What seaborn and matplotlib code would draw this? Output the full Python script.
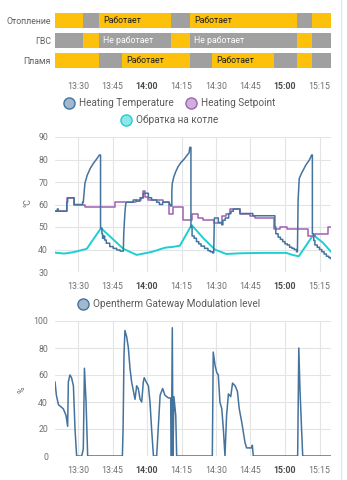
import numpy as np
import pandas as pd
import matplotlib
matplotlib.use("Agg")
import matplotlib.pyplot as plt
import seaborn as sns
from matplotlib.lines import Line2D

# ---------------- data (minutes after 13:20) ----------------
tick_minutes = [10, 25, 40, 55, 70, 85, 100, 115]
tick_labels = ["13:30", "13:45", "14:00", "14:15", "14:30", "14:45", "15:00", "15:15"]
bold_ticks = ["14:00", "15:00"]

timeline_rows = ["Отопление", "ГВС", "Пламя"]
heating_bounds = [0, 12.0, 19.3, 50.4, 58.7, 105.1, 111.6, 120]
heating_states = [1, 0, 1, 0, 1, 0, 1]
dhw_bounds = [0, 12.0, 19.3, 50.4, 58.7, 105.1, 111.6, 120]
dhw_states = [0, 1, 0, 1, 0, 1, 0]
flame_bounds = [0, 19.3, 29.1, 58.7, 68.3, 95.2, 105.3, 111.6, 120]
flame_states = [1, 0, 1, 0, 1, 0, 1, 0]
state_on_text = "Работает"
state_off_text = "Не работает"

# Heating temperature: (minute, °C) path points
ht_points = [
    (0, 57), (1.0, 57), (1.0, 58), (1.4, 58), (1.4, 57), (5.1, 57), (5.1, 61), (5.5, 61),
    (5.5, 63), (8.3, 63), (8.3, 60), (12.0, 60), (12.0, 61), (12.3, 61),
    (12.7, 66), (13.0, 69.4), (14.0, 73), (15.3, 76), (16.7, 78.3), (18.1, 80.2),
    (19.3, 82), (19.8, 82), (19.8, 49.5), (20.4, 49.5), (20.4, 47), (20.7, 47), (20.7, 45),
    (21.2, 45), (21.2, 46), (21.6, 46), (21.6, 44.2), (22.3, 44.2), (22.3, 42.8),
    (23.8, 42.8), (23.8, 41.3), (25.3, 41.3), (25.3, 40.5), (26.8, 40.5), (26.8, 39.8),
    (28.3, 39.8), (28.3, 39.3), (29.7, 39.3),
    (29.9, 47.3), (30.2, 53), (30.5, 57.6), (30.8, 60.6), (31.2, 61), (34.0, 61),
    (34.0, 62), (35.5, 62), (35.5, 61.5), (37.0, 61.5), (37.0, 63), (38.4, 63), (38.4, 65),
    (40.6, 65), (40.6, 63), (42.0, 63), (42.0, 62), (44.2, 62), (44.2, 61), (45.4, 61),
    (45.4, 60), (46.8, 60), (46.8, 61), (49.7, 61), (49.7, 60), (50.3, 60), (50.3, 59.3),
    (50.8, 59.3), (50.8, 66), (51.0, 69.4),
    (51.7, 72.4), (52.5, 74.6), (53.5, 76.8), (54.7, 78.6), (56.1, 80.1), (57.5, 82),
    (58.3, 83), (58.6, 85.4), (59.1, 85.4), (59.1, 50), (59.6, 50), (59.6, 46), (60.5, 46),
    (60.5, 45), (61.5, 45), (61.5, 43.5), (62.5, 43.5), (62.5, 42.5), (63.5, 42.5),
    (63.5, 41.5), (65.0, 41.5), (65.0, 40.5), (66.5, 40.5), (66.5, 39.5), (67.5, 39.5),
    (67.5, 39), (68.5, 39), (68.5, 38.5), (69.0, 38.5),
    (69.3, 54), (71.0, 54), (71.0, 52), (72.5, 52), (72.5, 51), (73.0, 51), (73.0, 53),
    (74.0, 53), (74.0, 54), (75.5, 54), (75.5, 56), (76.5, 56), (76.5, 57), (77.5, 57),
    (77.5, 58), (80.4, 58), (80.4, 56), (86.0, 56), (86.0, 55), (95.6, 55), (95.6, 50),
    (96.0, 50), (96.0, 47), (97.0, 47), (97.0, 45.5), (98.0, 45.5), (98.0, 44.5),
    (99.0, 44.5), (99.0, 43.5), (100.0, 43.5), (100.0, 42.5), (101.0, 42.5), (101.0, 42),
    (102.0, 42), (102.0, 41), (103.0, 41), (103.0, 40.5), (104.0, 40.5), (104.0, 40),
    (105.0, 40), (105.0, 39), (105.4, 39),
    (105.7, 62), (106.2, 71.6), (107.2, 73.9), (107.9, 75.3), (109.1, 77.6), (110.6, 79.8),
    (111.6, 82), (111.9, 82), (111.9, 47), (112.5, 47), (112.5, 44), (113.0, 44),
    (113.0, 42), (114.0, 42), (114.0, 41), (115.0, 41), (115.0, 40), (116.0, 40),
    (116.0, 39), (117.0, 39), (117.0, 38), (118.0, 38), (118.0, 37), (119.0, 37),
    (119.0, 36.5), (119.6, 36.5), (119.6, 36), (120.0, 36),
]

sp_t = [0, 5.0, 8.3, 13.0, 26.0, 35.0, 37.5, 38.4, 39.3, 40.6, 47.1, 49.5, 51.5, 55.8,
        59.5, 62.0, 64.5, 69.0, 72.5, 74.5, 76.0, 80.4, 84.8, 87.0, 95.0, 98.0, 101.0,
        110.0, 113.0, 118.8, 120.0]
sp_v = [57, 63, 60, 59, 61, 62, 63, 66, 63.5, 62, 61, 56, 59, 53,
        56, 54, 53, 52, 55, 56, 58, 56, 55, 54, 49, 50, 49,
        46, 47, 50, 50]

ret_t = [0, 4, 8, 13.8, 20.0, 29.7, 35.5, 42, 47.8, 51.5, 54.3, 59.4,
         64.5, 69.5, 74.5, 80, 90, 100.5, 103.5, 106, 112.3, 116.5, 120]
ret_v = [38.6, 38.2, 38.8, 40.3, 49.5, 40.3, 37.6, 38.9, 40.8, 41.2, 41.7, 50.9,
         45, 40, 38, 38.3, 38.5, 38.5, 37.5, 37, 46.5, 43, 39]

mod_t = [0, 0.6, 1.5, 3.6, 4.8, 5.5, 5.8, 6.5, 7.2, 8.0, 8.7, 9.4, 11.6, 12.3, 12.8,
         13.5, 14.2, 29.3, 29.6, 30.0, 30.4, 31.2, 31.9, 32.6, 33.3, 34.1, 34.8, 35.5,
         36.2, 37.0, 37.7, 38.4, 38.8, 39.6, 40.6, 41.3, 42.0, 42.8, 44.2, 45.7, 46.8,
         47.8, 49.3, 50.3, 50.6, 51.0, 51.3, 51.7, 52.5, 52.9, 68.4, 68.8, 69.6, 70.3,
         71.0, 71.7, 72.5, 73.2, 73.9, 74.6, 75.4, 76.4, 77.2, 78.3, 79.3, 80.1, 81.2,
         82.6, 83.3, 85.5, 85.8, 86.2, 105.5, 106.0, 106.5, 107.2, 107.7, 120.0]
mod_v = [55, 45, 38, 35, 30, 22, 55, 60, 58, 52, 20, 0, 0, 5, 65,
         40, 0, 0, 20, 75, 93, 88, 80, 65, 55, 48, 42, 52,
         50, 42, 40, 55, 58, 55, 52, 40, 20, 0, 0, 45, 50,
         45, 43, 43, 0, 95, 0, 44, 30, 0, 0, 77, 67, 62,
         60, 40, 35, 20, 0, 30, 46, 44, 54, 52, 48, 35, 25,
         10, 6, 6, 8, 0, 0, 80, 50, 20, 0, 0]

# ---------------- style ----------------
sns.set_theme(style="whitegrid")
plt.rcParams['font.family'] = ['Roboto', 'DejaVu Sans']

C_TEMP = "#44739e"
C_SET = "#a062b2"
C_RET = "#1ccfd3"
C_ON = "#fdc10b"
C_OFF = "#a0a0a0"
C_GRID = "#e4e4e4"
C_TICK = "#707070"
FS = 6.3
FS_LEG = 7.2

W, H = 347, 480
fig = plt.figure(figsize=(W / 100, H / 100), dpi=100)
fig.patch.set_facecolor("white")


def axes_px(l, t, r, b):
    return fig.add_axes([l / W, 1 - b / H, (r - l) / W, (b - t) / H])


def style_xticks(ax, pad):
    ax.set_xlim(0, 120)
    ax.set_xticks(tick_minutes)
    ax.set_xticklabels(tick_labels)
    for lab in ax.get_xticklabels():
        if lab.get_text() in bold_ticks:
            lab.set_fontweight("bold")
            lab.set_color("#4a4a4a")
        else:
            lab.set_color(C_TICK)
        lab.set_fontsize(FS)
    ax.tick_params(axis="x", length=0, pad=pad)


# ---------------- timeline ----------------
ax0 = axes_px(55, 10.5, 331, 70.5)
ax0.set_facecolor("white")
rows = [(heating_bounds, heating_states), (dhw_bounds, dhw_states), (flame_bounds, flame_states)]
for i, (bounds, states) in enumerate(rows):
    starts = np.array(bounds[:-1])
    widths = np.diff(bounds)
    cols = [C_ON if s else C_OFF for s in states]
    ax0.barh([i] * len(starts), widths, left=starts, height=0.75, color=cols,
             edgecolor="none", linewidth=0)
    for st, wd, s in zip(starts, widths, states):
        if wd > 20:
            ax0.text(st + 1.7, i, state_on_text if s else state_off_text,
                     va="center", ha="left", fontsize=FS,
                     color="#202020" if s else "white")
ax0.set_ylim(2.5, -0.5)
ax0.set_yticks([0, 1, 2])
ax0.set_yticklabels(timeline_rows, fontsize=FS, color="#606060")
ax0.tick_params(axis="y", length=0, pad=3)
style_xticks(ax0, 8)
ax0.grid(False)
for s in ax0.spines.values():
    s.set_visible(False)

# ---------------- temperatures ----------------
ax1 = axes_px(55, 137, 331, 272)
df_ht = pd.DataFrame(ht_points, columns=["t", "v"])
df_sp = pd.DataFrame({"t": sp_t, "v": sp_v})
df_ret = pd.DataFrame({"t": ret_t, "v": ret_v})
sns.lineplot(data=df_ret, x="t", y="v", ax=ax1, color=C_RET, lw=1.4, estimator=None, legend=False)
sns.lineplot(data=df_sp, x="t", y="v", ax=ax1, color=C_SET, lw=1.1, drawstyle="steps-post",
             estimator=None, legend=False)
sns.lineplot(data=df_ht, x="t", y="v", ax=ax1, color=C_TEMP, lw=1.1, sort=False,
             estimator=None, legend=False)
ax1.set_ylim(30, 90)
ax1.set_yticks(range(30, 91, 10))
ax1.set_xlabel("")
ax1.set_ylabel("")

# ---------------- modulation ----------------
ax2 = axes_px(55, 321, 331, 456)
df_mod = pd.DataFrame({"t": mod_t, "v": mod_v})
sns.lineplot(data=df_mod, x="t", y="v", ax=ax2, color=C_TEMP, lw=1.1, estimator=None, legend=False)
ax2.set_ylim(0, 100)
ax2.set_yticks(range(0, 101, 20))
ax2.set_xlabel("")
ax2.set_ylabel("")

for ax in (ax1, ax2):
    ax.set_facecolor("white")
    style_xticks(ax, 7)
    ax.grid(True, color=C_GRID, lw=0.8)
    ax.tick_params(axis="y", length=0, pad=5, labelsize=FS, labelcolor=C_TICK)
    for name, s in ax.spines.items():
        s.set_visible(False)

fig.text(28 / W, 1 - 203 / H, "°C", rotation=90, ha="center", va="center", fontsize=FS, color=C_TICK)
fig.text(22 / W, 1 - 390 / H, "%", rotation=90, ha="center", va="center", fontsize=FS, color=C_TICK)


# ---------------- legends ----------------
def handle(c):
    return Line2D([], [], linestyle="none", marker="o", markersize=8.0,
                  markerfacecolor=matplotlib.colors.to_rgba(c, 0.5),
                  markeredgecolor=c, markeredgewidth=1.0)


leg_kw = dict(loc="center", frameon=False, fontsize=FS_LEG, handlelength=0.8,
              handletextpad=0.6, columnspacing=1.3, borderpad=0, labelcolor="#5a5a5a")
l1 = fig.legend([handle(C_TEMP), handle(C_SET)], ["Heating Temperature", "Heating Setpoint"],
                bbox_to_anchor=(170 / W, 1 - 103 / H), ncol=2, **leg_kw)
l2 = fig.legend([handle(C_RET)], ["Обратка на котле"],
                bbox_to_anchor=(170 / W, 1 - 120 / H), ncol=1, **leg_kw)
l3 = fig.legend([handle(C_TEMP)], ["Opentherm Gateway Modulation level"],
                bbox_to_anchor=(170 / W, 1 - 304 / H), ncol=1, **leg_kw)

# card border on the right
fig.add_artist(Line2D([340.5 / W, 340.5 / W], [0, 1], transform=fig.transFigure,
                      color="#e6e6e6", lw=1))

fig.savefig("out.png", dpi=100, facecolor="white")
